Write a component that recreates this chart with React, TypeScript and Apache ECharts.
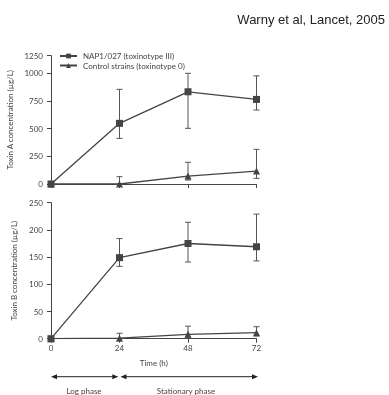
import React, { useEffect, useRef } from "react";
import * as echarts from "echarts";

const hours = [0, 24, 48, 72];
// Toxin A (µg/L)
const toxinA_NAP1 = [0, 548, 833, 764];
const toxinA_NAP1_low = [0, 412, 503, 668];
const toxinA_NAP1_high = [0, 855, 1000, 977];
const toxinA_Ctrl = [0, 0, 72, 117];
const toxinA_Ctrl_low = [0, 0, 36, 51];
const toxinA_Ctrl_high = [0, 66, 196, 313];
// Toxin B (µg/L)
const toxinB_NAP1 = [0, 149, 175, 169];
const toxinB_NAP1_low = [0, 133, 141, 143];
const toxinB_NAP1_high = [0, 184, 214, 229];
const toxinB_Ctrl = [0, 1, 8, 11];
const toxinB_Ctrl_low = [0, 0, 3, 5];
const toxinB_Ctrl_high = [0, 10, 23, 22];

const seriesNames = ["NAP1/027 (toxinotype III)", "Control strains (toxinotype 0)"];
const xTickLabels = ["0", "24", "48", "72"];

const INK = "#444";
const FONT = "Lato";
const FS = 8;

const pairs = (ys: number[]) => hours.map((h, i) => [h, ys[i]]);
const errData = (lo: number[], hi: number[]) =>
  hours.map((h, i) => [h, lo[i], hi[i]]).filter((d) => d[2] > d[1]);

const errRender = (params: any, api: any) => {
  const x = api.value(0);
  const lo = api.value(1);
  const hi = api.value(2);
  const pHi = api.coord([x, hi]);
  const pLo = api.coord([x, lo]);
  const w = 3;
  const style = { stroke: "#555", lineWidth: 1 };
  return {
    type: "group",
    children: [
      { type: "line", shape: { x1: pHi[0], y1: pHi[1], x2: pLo[0], y2: pLo[1] }, style },
      { type: "line", shape: { x1: pHi[0] - w, y1: pHi[1], x2: pHi[0] + w, y2: pHi[1] }, style },
      { type: "line", shape: { x1: pLo[0] - w, y1: pLo[1], x2: pLo[0] + w, y2: pLo[1] }, style },
    ],
  };
};

export default function App() {
  const ref = useRef<HTMLDivElement>(null);
  useEffect(() => {
    if (!ref.current) return;
    const chart = echarts.init(ref.current, undefined, { renderer: "svg" });
    const axisCommon = {
      axisLine: { show: true, lineStyle: { color: INK, width: 1 } },
      axisTick: { show: true, length: 4, lineStyle: { color: INK } },
      splitLine: { show: false },
    };
    const lineSeries = (name: string, data: number[][], symbol: string, xi: number, size: number) => ({
      name,
      type: "line",
      xAxisIndex: xi,
      yAxisIndex: xi,
      data,
      symbol,
      symbolSize: size,
      lineStyle: { color: INK, width: 1.3 },
      itemStyle: { color: INK },
      z: 3,
    });
    const errSeries = (data: number[][], xi: number) => ({
      type: "custom",
      xAxisIndex: xi,
      yAxisIndex: xi,
      data,
      renderItem: errRender,
      z: 2,
      silent: true,
    });
    chart.setOption({
      animation: false,
      textStyle: { fontFamily: FONT },
      grid: [
        { left: 51, top: 55.7, width: 205.5, height: 128.3, containLabel: false, outerBoundsMode: "none" },
        { left: 51, top: 202.7, width: 205.5, height: 136, containLabel: false, outerBoundsMode: "none" },
      ],
      xAxis: [
        {
          type: "value", gridIndex: 0, min: 0, max: 72, interval: 24,
          ...axisCommon,
          axisLabel: { show: false },
        },
        {
          type: "value", gridIndex: 1, min: 0, max: 72, interval: 24,
          ...axisCommon,
          axisLabel: {
            show: true, fontSize: FS, color: INK, margin: 5, fontFamily: FONT,
            formatter: (v: number) => xTickLabels[hours.indexOf(v)] ?? "",
          },
          name: "Time (h)",
          nameLocation: "middle",
          nameGap: 20,
          nameTextStyle: { fontSize: FS, color: INK, fontFamily: FONT },
        },
      ],
      yAxis: [
        {
          type: "value", gridIndex: 0, min: 0, max: 1159, interval: 250,
          ...axisCommon,
          axisLabel: {
            fontSize: FS, color: INK, margin: 8, fontFamily: FONT,
            formatter: (v: number) => (v > 1000 ? "1250" : String(v)),
          },
          name: "Toxin A concentration (µg/L)",
          nameLocation: "middle",
          nameGap: 32,
          nameTextStyle: { fontSize: FS, color: INK, fontFamily: FONT },
        },
        {
          type: "value", gridIndex: 1, min: 0, max: 250, interval: 50,
          ...axisCommon,
          axisLabel: { fontSize: FS, color: INK, margin: 8, fontFamily: FONT },
          name: "Toxin B concentration (µg/L)",
          nameLocation: "middle",
          nameGap: 32,
          nameTextStyle: { fontSize: FS, color: INK, fontFamily: FONT },
        },
      ],
      legend: {
        data: seriesNames,
        orient: "vertical",
        left: 54,
        top: 47,
        itemGap: 1.5,
        itemWidth: 17,
        itemHeight: 6,
        padding: 5,
        textStyle: { fontSize: FS, color: INK, fontFamily: FONT, padding: [0, 0, 0, 1] },
      },
      series: [
        errSeries(errData(toxinA_NAP1_low, toxinA_NAP1_high), 0),
        errSeries(errData(toxinA_Ctrl_low, toxinA_Ctrl_high), 0),
        errSeries(errData(toxinB_NAP1_low, toxinB_NAP1_high), 1),
        errSeries(errData(toxinB_Ctrl_low, toxinB_Ctrl_high), 1),
        lineSeries(seriesNames[0], pairs(toxinA_NAP1), "rect", 0, 7),
        lineSeries(seriesNames[1], pairs(toxinA_Ctrl), "triangle", 0, 7),
        lineSeries(seriesNames[0], pairs(toxinB_NAP1), "rect", 1, 7),
        lineSeries(seriesNames[1], pairs(toxinB_Ctrl), "triangle", 1, 7),
      ],
      graphic: [
        {
          type: "text", right: 4, top: 13,
          style: { text: "Warny et al, Lancet, 2005", font: "13px 'Liberation Sans', Arial, sans-serif", fill: "#222" },
        },
        { type: "line", shape: { x1: 53, y1: 376.7, x2: 116, y2: 376.7 }, style: { stroke: "#222", lineWidth: 1 } },
        { type: "polygon", shape: { points: [[51, 376.7], [57, 374.2], [57, 379.2]] }, style: { fill: "#222" } },
        { type: "polygon", shape: { points: [[118.3, 376.7], [112.3, 374.2], [112.3, 379.2]] }, style: { fill: "#222" } },
        { type: "line", shape: { x1: 122, y1: 376.7, x2: 256, y2: 376.7 }, style: { stroke: "#222", lineWidth: 1 } },
        { type: "polygon", shape: { points: [[120.5, 376.7], [126.5, 374.2], [126.5, 379.2]] }, style: { fill: "#222" } },
        { type: "polygon", shape: { points: [[258, 376.7], [252, 374.2], [252, 379.2]] }, style: { fill: "#222" } },
        {
          type: "text", x: 84, y: 390.5,
          style: { text: "Log phase", font: `${FS}px ${FONT}`, fill: INK, align: "center", verticalAlign: "middle" },
        },
        {
          type: "text", x: 186, y: 390.5,
          style: { text: "Stationary phase", font: `${FS}px ${FONT}`, fill: INK, align: "center", verticalAlign: "middle" },
        },
      ],
    });
    return () => chart.dispose();
  }, []);
  return <div ref={ref} style={{ position: "fixed", left: 0, top: 0, width: 389, height: 395 }} />;
}
